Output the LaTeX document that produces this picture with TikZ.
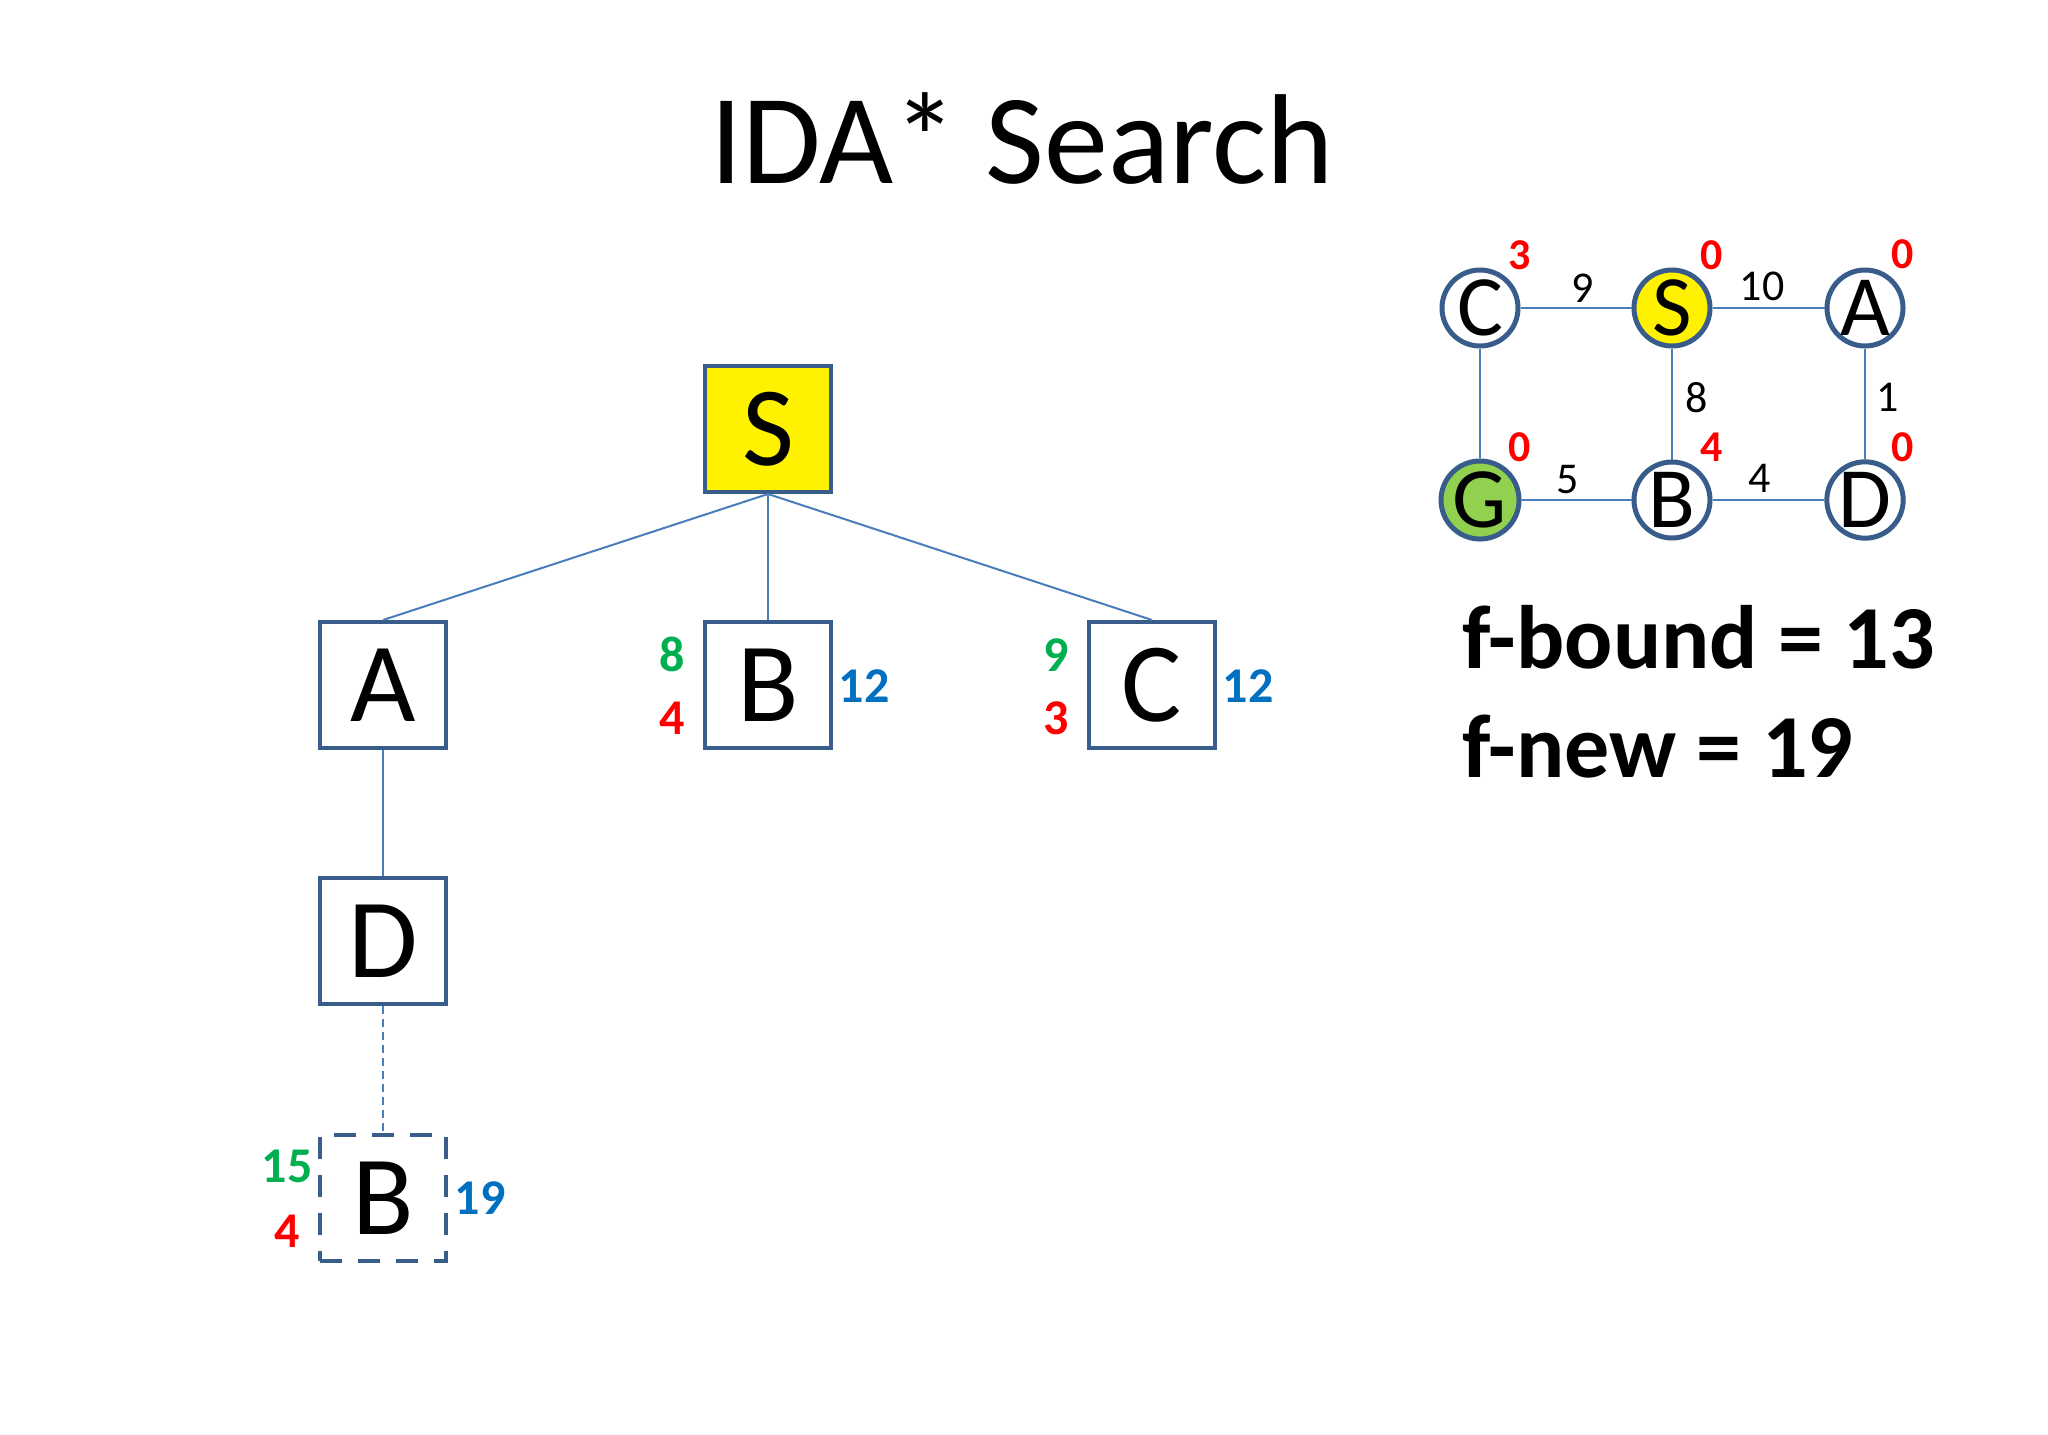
\documentclass[tikz,border=0pt]{standalone}
\usepackage{fontspec}
\setmainfont{Carlito}
\definecolor{boxc}{RGB}{56,93,138}
\definecolor{edgec}{RGB}{74,126,187}
\definecolor{gnum}{RGB}{0,176,80}
\definecolor{rnum}{RGB}{255,0,0}
\definecolor{bnum}{RGB}{0,112,192}
\definecolor{goalc}{RGB}{146,208,80}
\newcommand{\fs}[1]{\fontsize{#1pt}{#1pt}\selectfont}
\tikzset{
  tbox/.style={draw=boxc, line width=2pt, minimum size=63pt, inner sep=0pt, fill=white, font=\fs{56.5}},
  gnode/.style={circle, draw=boxc, line width=2.5pt, minimum size=38pt, inner sep=0pt, fill=white, font=\fs{43}},
  tedge/.style={draw=edgec, line width=1pt},
  glab/.style={text=gnum, font=\bfseries\fs{25}, inner sep=0pt},
  rlab/.style={text=rnum, font=\bfseries\fs{25}, inner sep=0pt},
  blab/.style={text=bnum, font=\bfseries\fs{25}, inner sep=0pt},
  hlab/.style={text=rnum, font=\bfseries\fs{22}, inner sep=0pt},
  wlab/.style={text=black, font=\fs{22}, inner sep=0pt},
  big/.style={font=\bfseries\fs{45}, inner sep=0pt, anchor=base west}
}
\begin{document}
\begin{tikzpicture}[x=0.5pt, y=-0.5pt]
\fill[white] (0,0) rectangle (2048,1434);
\useasboundingbox (0,0) rectangle (2048,1434);

% title
\node[font=\fs{64}, inner sep=0pt, anchor=base] (title) at (1022,183) {IDA* Search};

% tree
\node[tbox, fill=yellow] (S) at (768,429) {S};
\node[tbox] (A) at (383,685) {A};
\node[tbox] (B) at (768,685) {B};
\node[tbox] (C) at (1152,685) {C};
\node[tbox] (D) at (383,941) {D};
\node[tbox, dash pattern=on 11pt off 8pt] (B2) at (383,1198) {B};

\draw[tedge] (S.south) -- (A.north);
\draw[tedge] (S.south) -- (B.north);
\draw[tedge] (S.south) -- (C.north);
\draw[tedge] (A.south) -- (D.north);
\draw[tedge, dash pattern=on 4pt off 2.5pt] (D.south) -- (B2.north);

% tree labels
\node[glab] (Bg) at (672,654) {8};
\node[rlab] (Br) at (672,718) {4};
\node[blab] (Bb) at (864,686) {12};
\node[glab] (Cg) at (1056,655) {9};
\node[rlab] (Cr) at (1056,718) {3};
\node[blab] (Cb) at (1248,686) {12};
\node[glab] (B2g) at (287,1166) {15};
\node[rlab] (B2r) at (287,1231) {4};
\node[blab] (B2b) at (480,1198) {19};

% graph
\node[gnode] (gC) at (1480,308) {C};
\node[gnode, fill=yellow] (gS) at (1672,308) {S};
\node[gnode] (gA) at (1865,308) {A};
\node[gnode, fill=goalc] (gG) at (1480,500) {G};
\node[gnode] (gB) at (1672,500) {B};
\node[gnode] (gD) at (1865,500) {D};

\draw[tedge] (gC) -- (gS);
\draw[tedge] (gS) -- (gA);
\draw[tedge] (gC) -- (gG);
\draw[tedge] (gS) -- (gB);
\draw[tedge] (gA) -- (gD);
\draw[tedge] (gG) -- (gB);
\draw[tedge] (gB) -- (gD);

\node[wlab] (w9) at (1583,288) {9};
\node[wlab] (w10) at (1762,286) {10};
\node[wlab] (w8) at (1697,398) {8};
\node[wlab] (w1) at (1888,397) {1};
\node[wlab] (w5) at (1568,480) {5};
\node[wlab] (w4) at (1760,478) {4};

\node[hlab] (hC) at (1520,255) {3};
\node[hlab] (hS) at (1712,255) {0};
\node[hlab] (hA) at (1903,254) {0};
\node[hlab] (hG) at (1520,447) {0};
\node[hlab] (hB) at (1712,447) {4};
\node[hlab] (hD) at (1903,447) {0};

\node[big] (fb) at (1462,668) {f-bound = 13};
\node[big] (fn) at (1462,777) {f-new = 19};
\end{tikzpicture}
\end{document}
